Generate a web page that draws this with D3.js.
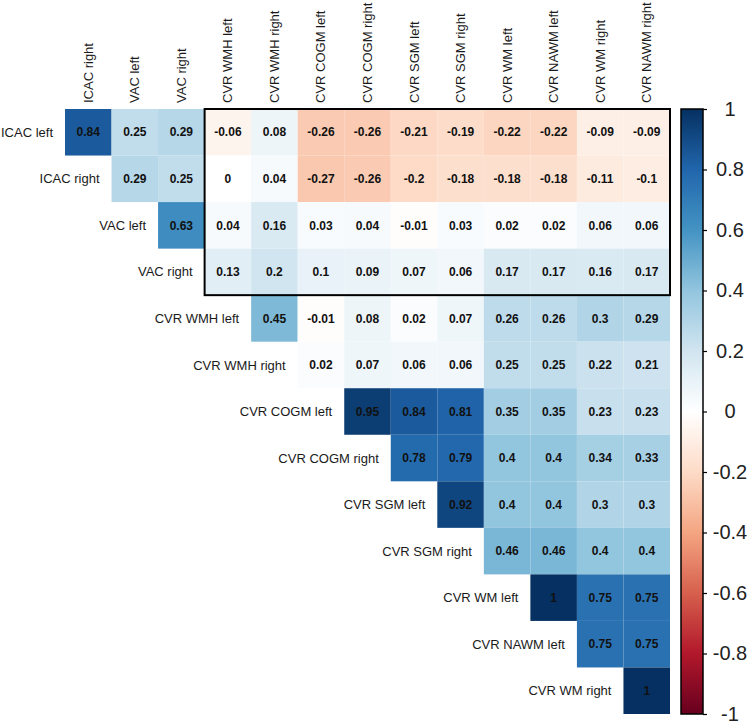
<!DOCTYPE html>
<html>
<head>
<meta charset="utf-8">
<script src="https://cdn.jsdelivr.net/npm/d3@7"></script>
<style>
  body { margin: 0; background: #fff; }
  text { font-family: "Liberation Sans", Arial, sans-serif; }
</style>
</head>
<body>
<svg id="chart" width="750" height="725"></svg>
<script>
// Variable names (rows = first 13, columns = last 13)
const rowNames = ["ICAC left", "ICAC right", "VAC left", "VAC right", "CVR WMH left", "CVR WMH right",
  "CVR COGM left", "CVR COGM right", "CVR SGM left", "CVR SGM right", "CVR WM left", "CVR NAWM left", "CVR WM right"];
const colNames = ["ICAC right", "VAC left", "VAC right", "CVR WMH left", "CVR WMH right", "CVR COGM left",
  "CVR COGM right", "CVR SGM left", "CVR SGM right", "CVR WM left", "CVR NAWM left", "CVR WM right", "CVR NAWM right"];

// Correlations, row i starts at column i (upper triangle)
const corrRows = [
  [0.84, 0.25, 0.29, -0.06, 0.08, -0.26, -0.26, -0.21, -0.19, -0.22, -0.22, -0.09, -0.09],
  [0.29, 0.25, 0, 0.04, -0.27, -0.26, -0.2, -0.18, -0.18, -0.18, -0.11, -0.1],
  [0.63, 0.04, 0.16, 0.03, 0.04, -0.01, 0.03, 0.02, 0.02, 0.06, 0.06],
  [0.13, 0.2, 0.1, 0.09, 0.07, 0.06, 0.17, 0.17, 0.16, 0.17],
  [0.45, -0.01, 0.08, 0.02, 0.07, 0.26, 0.26, 0.3, 0.29],
  [0.02, 0.07, 0.06, 0.06, 0.25, 0.25, 0.22, 0.21],
  [0.95, 0.84, 0.81, 0.35, 0.35, 0.23, 0.23],
  [0.78, 0.79, 0.4, 0.4, 0.34, 0.33],
  [0.92, 0.4, 0.4, 0.3, 0.3],
  [0.46, 0.46, 0.4, 0.4],
  [1, 0.75, 0.75],
  [0.75, 0.75],
  [1]
];

// Colour bar ticks
const colorbarTicks = [1, 0.8, 0.6, 0.4, 0.2, 0, -0.2, -0.4, -0.6, -0.8, -1];

// RdBu palette used by corrplot
const palette = ["#67001F", "#B2182B", "#D6604D", "#F4A582", "#FDDBC7", "#FFFFFF",
  "#D1E5F0", "#92C5DE", "#4393C3", "#2166AC", "#053061"];

const svg = d3.select("#chart");

const gridLeft = 65, gridRight = 670, gridTop = 109, gridBottom = 714;

const x = d3.scaleBand().domain(colNames).range([gridLeft, gridRight]);
const y = d3.scaleBand().domain(rowNames).range([gridTop, gridBottom]);

const color = d3.scaleLinear()
  .domain(d3.range(palette.length).map(i => -1 + 2 * i / (palette.length - 1)))
  .range(palette);

// flatten into cells
const cells = [];
corrRows.forEach(function(vals, i) {
  vals.forEach(function(v, k) {
    cells.push({ row: rowNames[i], col: colNames[i + k], value: v });
  });
});

const chart = svg.append("g");

chart.selectAll("rect.cell")
  .data(cells)
  .enter()
  .append("rect")
  .attr("class", "cell")
  .attr("x", d => x(d.col))
  .attr("y", d => y(d.row))
  .attr("width", x.bandwidth())
  .attr("height", y.bandwidth())
  .attr("fill", d => color(d.value));

chart.selectAll("text.val")
  .data(cells)
  .enter()
  .append("text")
  .attr("class", "val")
  .attr("x", d => x(d.col) + x.bandwidth() / 2)
  .attr("y", d => y(d.row) + y.bandwidth() / 2)
  .attr("dy", "0.35em")
  .attr("text-anchor", "middle")
  .style("font-size", "12px")
  .style("font-weight", "bold")
  .style("fill", "#111")
  .text(d => String(d.value));

// row labels, placed left of each row's first cell
chart.selectAll("text.rowlab")
  .data(rowNames)
  .enter()
  .append("text")
  .attr("class", "rowlab")
  .attr("x", (d, i) => x(colNames[i]) - 12)
  .attr("y", d => y(d) + y.bandwidth() / 2)
  .attr("dy", "0.35em")
  .attr("text-anchor", "end")
  .style("font-size", "13px")
  .style("fill", "#1a1a1a")
  .text(d => d);

// column labels, rotated
chart.selectAll("text.collab")
  .data(colNames)
  .enter()
  .append("text")
  .attr("class", "collab")
  .attr("transform", d => "translate(" + (x(d) + x.bandwidth() / 2 + 4.5) + "," + (gridTop - 6) + ") rotate(-90)")
  .attr("text-anchor", "start")
  .style("font-size", "13px")
  .style("fill", "#1a1a1a")
  .text(d => d);

// highlight box: first four rows vs CVR columns
chart.append("rect")
  .attr("x", x("CVR WMH left"))
  .attr("y", y("ICAC left"))
  .attr("width", gridRight - x("CVR WMH left"))
  .attr("height", y("CVR WMH left") - y("ICAC left"))
  .attr("fill", "none")
  .attr("stroke", "#000")
  .attr("stroke-width", 2);

// colour bar
const barX = 681, barW = 22;
const cy = d3.scaleLinear().domain([1, -1]).range([gridTop, gridBottom]);

const grad = svg.append("defs").append("linearGradient")
  .attr("id", "cbar")
  .attr("x1", 0).attr("y1", 0).attr("x2", 0).attr("y2", 1);
grad.selectAll("stop")
  .data(palette.slice().reverse())
  .enter()
  .append("stop")
  .attr("offset", (d, i) => i / (palette.length - 1))
  .attr("stop-color", d => d);

svg.append("rect")
  .attr("x", barX)
  .attr("y", cy(1))
  .attr("width", barW)
  .attr("height", cy(-1) - cy(1))
  .attr("fill", "url(#cbar)")
  .attr("stroke", "#000")
  .attr("stroke-width", 1.5);

const cAxis = d3.axisRight(cy)
  .tickValues(colorbarTicks)
  .tickSize(4)
  .tickFormat(d => String(d));

const axisG = svg.append("g")
  .attr("transform", "translate(" + (barX + barW) + ",0)")
  .call(cAxis);
axisG.select(".domain").remove();
axisG.selectAll("line").attr("stroke", "#000").attr("stroke-width", 1.2);
axisG.selectAll("text")
  .attr("x", 27)
  .attr("text-anchor", "middle")
  .style("font-family", "'Liberation Sans', Arial, sans-serif")
  .style("font-size", "20px")
  .style("fill", "#222");
</script>
</body>
</html>
